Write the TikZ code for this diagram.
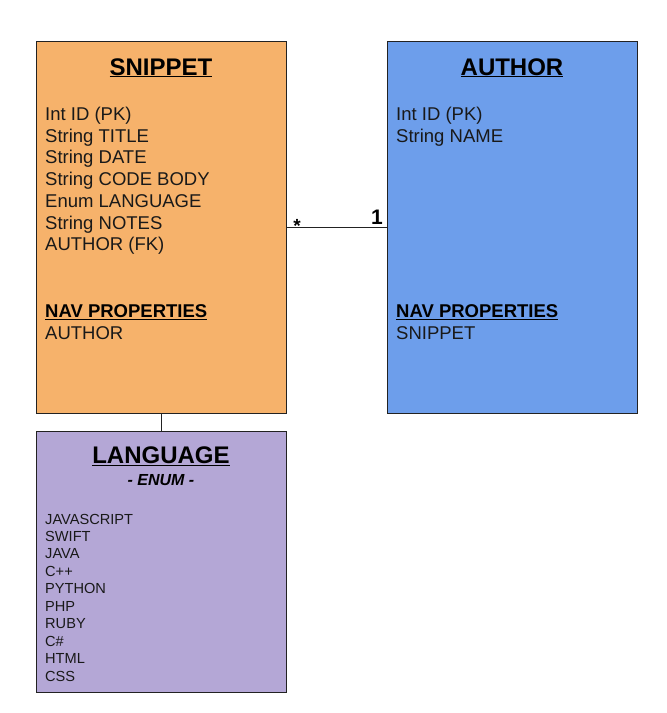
\documentclass[tikz,border=0pt]{standalone}
\usepackage{fontspec}
\setmainfont{Liberation Sans}
\definecolor{snip}{HTML}{F6B26B}
\definecolor{auth}{HTML}{6D9EEB}
\definecolor{lang}{HTML}{B4A7D6}
\definecolor{edge}{HTML}{222222}
\tikzset{
  entity/.style={draw=edge, line width=0.9pt},
  title/.style={anchor=base, inner sep=0pt, font=\fontsize{24}{27}\selectfont\bfseries},
  attr/.style={anchor=base west, inner sep=0pt, font=\fontsize{18.5}{21}\selectfont, text=black!90},
  navtitle/.style={anchor=base west, inner sep=0pt, font=\fontsize{18.5}{21}\selectfont\bfseries},
  item/.style={anchor=base west, inner sep=0pt, font=\fontsize{14.6}{17}\selectfont, text=black!90},
  link/.style={draw=edge, line width=0.8pt},
  mult/.style={anchor=base, inner sep=0pt, font=\bfseries}
}
\begin{document}
\begin{tikzpicture}[x=1pt,y=-1pt]
\useasboundingbox (0,0) rectangle (667,713);
\fill[white] (0,0) rectangle (667,713);
% boxes
\draw[entity, fill=snip] (36,41) rectangle (286,413);
\draw[entity, fill=auth] (387,41) rectangle (637,413);
\draw[entity, fill=lang] (36,431) rectangle (286,692);
% anchor points for connectors
\coordinate (snipS) at (161,413);
\coordinate (langN) at (161,431);
\coordinate (snipE) at (286,227);
\coordinate (authW) at (387,227);
\draw[link] (snipS) -- (langN);
\draw[link] (snipE) -- (authW);
\node[mult, font=\fontsize{19}{20}\selectfont\bfseries] (many) at (297,232) {*};
\node[mult, font=\fontsize{21}{24}\selectfont\bfseries] (one) at (377,224) {1};
% SNIPPET
\node[title] (snipT) at (161,75) {\underline{SNIPPET}};
\foreach \t [count=\i] in {Int ID (PK),String TITLE,String DATE,String CODE BODY,Enum LANGUAGE,String NOTES,AUTHOR (FK)}
  \node[attr] (sa\i) at (45,{120.5+21.7*(\i-1)}) {\t};
\node[navtitle] (snav) at (45,317.5) {\underline{NAV PROPERTIES}};
\node[attr] (snavA) at (45,339.5) {AUTHOR};
% AUTHOR
\node[title] (authT) at (512,75) {\underline{AUTHOR}};
\node[attr] (aa1) at (396,120.5) {Int ID (PK)};
\node[attr] (aa2) at (396,142.5) {String NAME};
\node[navtitle] (anav) at (396,317.5) {\underline{NAV PROPERTIES}};
\node[attr] (anavS) at (396,339.5) {SNIPPET};
% LANGUAGE
\node[title] (langT) at (161,463.5) {\underline{LANGUAGE}};
\node[anchor=base, inner sep=0pt, font=\fontsize{16}{18}\selectfont\bfseries\itshape] (enum) at (161,485.5) {- ENUM -};
\foreach \t [count=\i] in {JAVASCRIPT,SWIFT,JAVA,C++,PYTHON,PHP,RUBY,C\#,HTML,CSS}
  \node[item] (li\i) at (45,{524+17.45*(\i-1)}) {\t};
\end{tikzpicture}
\end{document}
